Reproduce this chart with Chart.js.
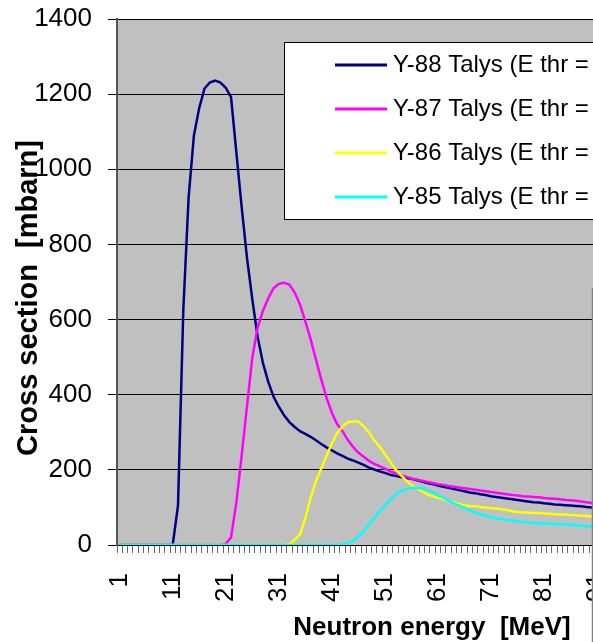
<!DOCTYPE html>
<html>
<head>
<meta charset="utf-8">
<script src="https://cdn.jsdelivr.net/npm/chart.js@4.4.0/dist/chart.umd.min.js"></script>
<style>
  html, body { margin: 0; padding: 0; background: #fff; overflow: hidden; }
  #wrap { width: 593px; height: 642px; overflow: hidden; }
</style>
</head>
<body>
<div id="wrap"><canvas id="xsChart" width="640" height="642"></canvas></div>
<script>
// Neutron energy categories (MeV)
const energies = [
  "1","2","3","4","5","6","7","8","9","10",
  "11","12","13","14","15","16","17","18","19","20",
  "21","22","23","24","25","26","27","28","29","30",
  "31","32","33","34","35","36","37","38","39","40",
  "41","42","43","44","45","46","47","48","49","50",
  "51","52","53","54","55","56","57","58","59","60",
  "61","62","63","64","65","66","67","68","69","70",
  "71","72","73","74","75","76","77","78","79","80",
  "81","82","83","84","85","86","87","88","89","90",
  "91","92"
];
const xTickLabels = ["1","11","21","31","41","51","61","71","81","91"];
const yTicks = [0, 200, 400, 600, 800, 1000, 1200, 1400];

const legendLabels = [
  "Y-88 Talys (E thr = 11.6 MeV)",
  "Y-87 Talys (E thr = 20.8 MeV)",
  "Y-86 Talys (E thr = 32.7 MeV)",
  "Y-85 Talys (E thr = 42.1 MeV)"
];

// cross sections in mbarn
const y88 = [
  0,0,0,0,0,0,0,0,0,0,
  0,105,625,925,1090,1163,1215,1231,1236,1231,
  1217,1192,1045,900,765,655,555,485,435,395,
  368,345,327,314,303,296,288,279,269,260,
  252,244,237,230,225,219,213,206,201,196,
  192,187,184,181,178,176,173,169,165,162,
  158,155,152,149,146,143,140,138,135,133,
  130,128,126,124,122,120,118,116,114,113,
  111,110,108,107,106,105,104,103,101,100,
  99,98
];
const y87 = [
  0,0,0,0,0,0,0,0,0,0,
  0,0,0,0,0,0,0,0,0,0,
  3,20,113,238,368,498,578,623,656,683,
  695,698,693,672,640,595,548,494,441,392,
  352,322,303,280,261,246,235,224,216,210,
  203,196,191,186,182,177,174,171,168,165,
  162,160,157,155,153,151,149,147,145,143,
  141,139,137,135,133,132,130,129,128,127,
  125,124,123,122,120,119,118,116,114,112,
  111,110
];
const y86 = [
  0,0,0,0,0,0,0,0,0,0,
  0,0,0,0,0,0,0,0,0,0,
  0,0,0,0,0,0,0,0,0,0,
  0,0,2,14,28,72,126,170,203,237,
  270,298,315,327,329,329,316,299,279,262,
  242,222,201,186,172,160,151,143,135,130,
  126,122,117,113,109,106,104,103,101,100,
  98,97,95,93,90,88,87,86,85,85,
  84,83,82,81,81,80,79,78,77,76,
  76,75
];
const y85 = [
  0,0,0,0,0,0,0,0,0,0,
  0,0,0,0,0,0,0,0,0,0,
  0,0,0,0,0,0,0,0,0,0,
  0,0,0,0,0,0,0,0,0,0,
  0,0,2,5,11,22,37,53,72,90,
  106,120,134,144,149,152,152,151,146,141,
  133,126,118,111,105,99,92,86,82,78,
  74,71,69,67,65,63,61,60,59,58,
  57,57,56,55,55,54,53,51,50,49,
  49,48
];

const FONT = '"Liberation Sans", Arial, sans-serif';

// grey plot area like the old Excel default
const plotBg = {
  id: "plotBg",
  beforeDraw(chart) {
    const { ctx, chartArea: a } = chart;
    ctx.save();
    ctx.fillStyle = "#c0c0c0";
    ctx.fillRect(a.left, a.top, a.right - a.left, a.bottom - a.top);
    ctx.restore();
  }
};

// legend box, axis titles and the edge of the neighbouring frame
const extras = {
  id: "extras",
  afterDraw(chart) {
    const ctx = chart.ctx;
    ctx.save();
    ctx.fillStyle = "#fff";
    ctx.strokeStyle = "#000";
    ctx.lineWidth = 1;
    ctx.fillRect(284.5, 42.5, 400, 177);
    ctx.strokeRect(284.5, 42.5, 400, 177);

    ctx.font = "24px " + FONT;
    ctx.textBaseline = "middle";
    ctx.textAlign = "left";
    chart.data.datasets.forEach((ds, i) => {
      const y = 65 + i * 44;
      ctx.strokeStyle = ds.borderColor;
      ctx.lineWidth = 3;
      ctx.beginPath();
      ctx.moveTo(335, y);
      ctx.lineTo(387, y);
      ctx.stroke();
      ctx.fillStyle = "#000";
      ctx.fillText(ds.label, 393, y);
    });

    ctx.fillStyle = "#000";
    ctx.font = "bold 26px " + FONT;
    ctx.textBaseline = "alphabetic";
    ctx.textAlign = "center";
    ctx.fillText("Neutron energy  [MeV]", 432, 635);

    ctx.font = "bold 29px " + FONT;
    ctx.translate(37, 298);
    ctx.rotate(-Math.PI / 2);
    ctx.fillText("Cross section  [mbarn]", 0, 0);
    ctx.restore();

    ctx.save();
    ctx.strokeStyle = "#808080";
    ctx.lineWidth = 1.5;
    ctx.beginPath();
    ctx.moveTo(592.5, 288);
    ctx.lineTo(592.5, 642);
    ctx.stroke();
    ctx.restore();
  }
};

const ctx = document.getElementById("xsChart").getContext("2d");
const chart = new Chart(ctx, {
  type: "line",
  data: {
    labels: energies,
    datasets: [
      { label: legendLabels[0], data: y88, borderColor: "#000080", order: 4 },
      { label: legendLabels[1], data: y87, borderColor: "#ff00ff", order: 3 },
      { label: legendLabels[2], data: y86, borderColor: "#ffff00", order: 2 },
      { label: legendLabels[3], data: y85, borderColor: "#00ffff", order: 1 }
    ]
  },
  options: {
    responsive: false,
    animation: false,
    devicePixelRatio: 1,
    layout: { padding: { left: 0, right: 35, top: 19, bottom: 0 } },
    elements: {
      line: { borderWidth: 2.5, tension: 0, fill: false },
      point: { radius: 0 }
    },
    plugins: {
      legend: { display: false },
      tooltip: { enabled: false }
    },
    scales: {
      x: {
        type: "category",
        offset: true,
        grid: { offset: true, drawOnChartArea: false, tickLength: 8, color: "#666", lineWidth: 1 },
        border: { color: "#000", width: 1 },
        ticks: {
          autoSkip: false,
          minRotation: 90,
          maxRotation: 90,
          padding: 20,
          color: "#000",
          font: { size: 26, family: FONT },
          callback: function (v) {
            const l = this.getLabelForValue(v);
            return xTickLabels.includes(l) ? l : "";
          }
        },
        afterFit: s => {
          s.height = 97;
          s.paddingLeft = 0;
          s.paddingRight = 0;
        }
      },
      y: {
        min: yTicks[0],
        max: yTicks[yTicks.length - 1],
        afterBuildTicks: axis => { axis.ticks = yTicks.map(v => ({ value: v })); },
        grid: { color: "#000", lineWidth: 1, tickLength: 9, tickColor: "#000" },
        border: { color: "#555", width: 2 },
        ticks: {
          padding: 16,
          color: "#000",
          font: { size: 26, family: FONT },
          callback: v => String(v)
        },
        afterFit: s => {
          s.width = 117;
          s.paddingTop = 0;
          s.paddingBottom = 0;
        }
      }
    }
  },
  plugins: [plotBg, extras]
});
</script>
</body>
</html>
